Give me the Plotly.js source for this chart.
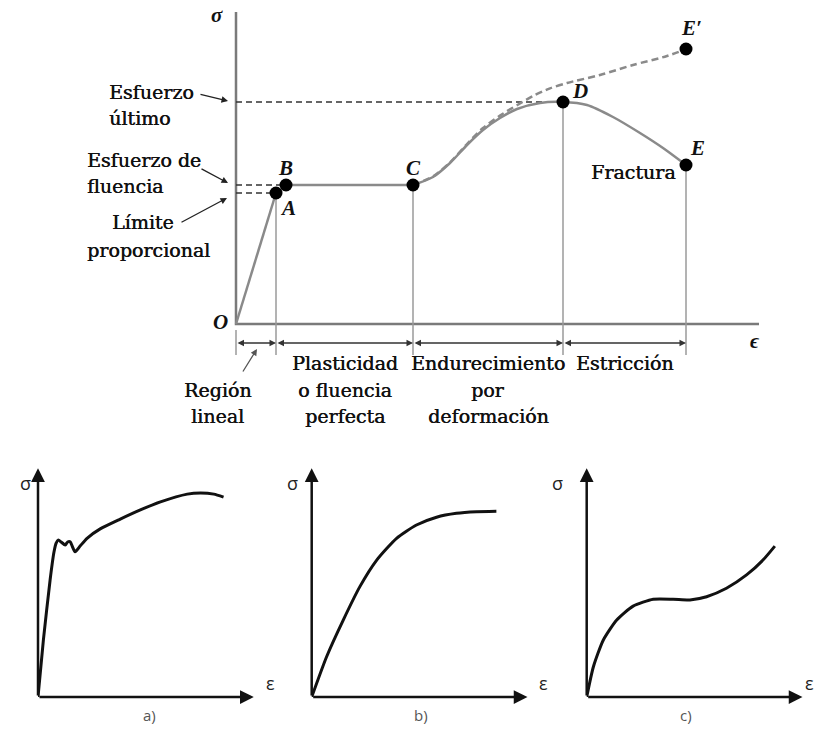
<!DOCTYPE html>
<html><head><meta charset="utf-8">
<script src="https://cdn.plot.ly/plotly-3.0.1.min.js"></script>
<style>html,body{margin:0;padding:0;background:#fff}</style>
</head><body><div id="chart" style="width:822px;height:742px"></div>
<script>
// ---------- Main stress-strain diagram (arbitrary units) ----------
const pointNames  = ['A', 'B', 'C', 'D', 'E', 'E′'];
const pointStrain = [10, 12.5, 44.25, 81.75, 112.5, 112.5];
const pointStress = [32.75, 34.75, 34.75, 55.5, 39.75, 68.75];

const linearStrain = [0, 10];
const linearStress = [0, 32.75];
const plateauStrain = [12.5, 44.25];
const plateauStress = [34.75, 34.75];
const engStrain = [44.25, 49.25, 53.5, 57.75, 61.75, 66, 70.25, 76, 81.75, 87.75, 94.25, 101, 106.75, 112.5];
const engStress = [34.75, 36.75, 40.25, 44.75, 48.5, 51.5, 53.75, 55.25, 55.5, 54.75, 51.75, 47.75, 44, 39.75];
const trueStrain = [44.25, 49.25, 53.5, 57.75, 61.75, 66, 70.25, 74.25, 78.5, 82.75, 91, 99.25, 107.75, 112.5];
const trueStress = [34.75, 36.9, 40.4, 45.0, 49.0, 52.1, 54.7, 57.0, 58.9, 60.25, 62.25, 64.75, 67, 68.75];

const stressLevels = [55.5, 34.75, 32.75];          // último, fluencia, proporcional
const stressLevelEnds = [81.75, 12.5, 10];
const regionBounds = [0, 10, 44.25, 81.75, 112.5];
const boundaryTops = [0, 32.75, 34.75, 55.5, 39.75];
const regionNames = [['Región', 'lineal'], ['Plasticidad', 'o fluencia', 'perfecta'], ['Endurecimiento', 'por', 'deformación'], ['Estricción']];
const axisMaxStrain = 130.75, axisMaxStress = 78;

// ---------- Small curves a), b), c) (0-100 scale) ----------
const aStrain = [0, 2.5, 5.6, 7.4, 8.4, 9.4, 10.7, 12.6, 13.7, 14.9, 16.0, 17.2, 19.5, 22.7, 28.8, 38.1, 47.4, 56.7, 69.1, 75.3, 81.4, 85.9];
const aStress = [0, 24.9, 51.1, 63.3, 67.2, 68.6, 67.7, 66.4, 67.7, 67.8, 65.5, 63.4, 65.9, 69.3, 73.4, 77.7, 81.7, 85.2, 88.6, 89.1, 88.6, 87.3];
const bStrain = [0, 6.9, 14.6, 22.3, 30.1, 39.3, 48.5, 57.8, 67.0, 76.3, 85.5];
const bStress = [0, 17.6, 33.6, 48.2, 59.8, 69.3, 75.1, 78.5, 80.2, 80.9, 81.1];
const cStrain = [0, 3.1, 7.7, 13.9, 21.5, 30.8, 40.0, 47.8, 55.5, 64.7, 74.0, 81.6, 87.1];
const cStress = [0, 13.2, 24.9, 33.6, 39.7, 42.7, 42.7, 42.4, 43.8, 47.5, 53.3, 59.8, 65.9];
const smallLabels = ['a)', 'b)', 'c)'];

const W = 822, H = 742;
const SERIF = 'DejaVu Serif', ITAL = 'Liberation Serif', SANS = 'Open Sans';
const GRAY = '#8a8a8a';

const traces = [];
// main axes
traces.push({x: [0, 0, axisMaxStrain], y: [axisMaxStress, 0, 0], mode: 'lines', line: {color: '#7a7a7a', width: 2.5}, xaxis: 'x', yaxis: 'y'});
// extension lines
const exX = [], exY = [];
regionBounds.forEach((b, i) => { exX.push(b, b, null); exY.push(i === 0 ? -1.5 : boundaryTops[i], -7.75, null); });
traces.push({x: exX, y: exY, mode: 'lines', line: {color: '#9a9a9a', width: 1.5}});
// dashed stress levels
const dX = [], dY = [];
stressLevels.forEach((s, i) => { dX.push(0, stressLevelEnds[i], null); dY.push(s, s, null); });
traces.push({x: dX, y: dY, mode: 'lines', line: {color: '#333', width: 1.6, dash: '6px,4px'}});
// curves
traces.push({x: linearStrain, y: linearStress, mode: 'lines', line: {color: GRAY, width: 2.5}});
traces.push({x: plateauStrain, y: plateauStress, mode: 'lines', line: {color: GRAY, width: 2.5}});
traces.push({x: trueStrain, y: trueStress, mode: 'lines', line: {color: GRAY, width: 2.5, dash: '7px,4px', shape: 'spline', smoothing: 0.8}});
traces.push({x: engStrain, y: engStress, mode: 'lines', line: {color: GRAY, width: 2.5, shape: 'spline', smoothing: 0.8}});
traces.push({x: pointStrain, y: pointStress, mode: 'markers', marker: {color: '#000', size: 13}, cliponaxis: false});

// small curves
[[aStrain, aStress], [bStrain, bStress], [cStrain, cStress]].forEach((d, i) => {
  traces.push({x: d[0], y: d[1], xaxis: 'x' + (i + 2), yaxis: 'y' + (i + 2), mode: 'lines',
    line: {color: '#111', width: 3, shape: 'spline', smoothing: 0.6}});
});

const ann = [];
function txt(text, x, y, o) {
  ann.push(Object.assign({text: text, x: x, y: y, xref: 'x', yref: 'y', showarrow: false,
    font: {family: SERIF, size: 19, color: '#111', shadow: '0.45px 0 0 #111'}}, o || {}));
}
function it(text, x, y, o) {
  txt(text, x, y, Object.assign({font: {family: ITAL, size: 21, color: '#111', weight: 'bold', style: 'italic'}}, o || {}));
}
// point letters
const shifts = [[12, -15], [-1, 17], [0, 17], [17, 11], [11, 17], [5, 21]];
pointNames.forEach((n, i) => it(n, pointStrain[i], pointStress[i], {xshift: shifts[i][0], yshift: shifts[i][1]}));
it('O', -3.8, 0.6);
it('σ', -4.75, 77.3);
it('ϵ', 129.8, -4.3);
txt('Fractura', 99.3, 38, {});
// left labels
txt('Esfuerzo', -32.25, 58, {xanchor: 'left'});
txt('último', -32.25, 51.5, {xanchor: 'left'});
txt('Esfuerzo de', -37.75, 41, {xanchor: 'left'});
txt('fluencia', -37.75, 34.5, {xanchor: 'left'});
txt('Límite', -31.5, 25.5, {xanchor: 'left'});
txt('proporcional', -37.75, 18.5, {xanchor: 'left'});
// label arrows
function arr(x, y, ax, ay, o) {
  ann.push(Object.assign({x: x, y: y, ax: ax, ay: ay, xref: 'x', yref: 'y', axref: 'x', ayref: 'y', text: '',
    showarrow: true, arrowhead: 2, arrowsize: 1, arrowwidth: 1.3, arrowcolor: '#222'}, o || {}));
}
arr(-2, 55.75, -9.25, 57.5);
arr(-2, 35.25, -9, 39);
arr(-2.25, 31.5, -14, 25.25);
arr(5.25, -6.25, 1.5, -12.25, {arrowcolor: '#555'});
// dimension arrows
for (let i = 0; i < 4; i++) {
  arr(regionBounds[i + 1], -4.75, regionBounds[i], -4.75, {arrowside: 'end+start', arrowhead: 2, startarrowhead: 2, arrowsize: 1, startarrowsize: 1, arrowcolor: '#333', arrowwidth: 1.3});
}
// region labels, one line at a time (rows ~26 px apart)
const regionCenters = [-4.75, (regionBounds[1] + regionBounds[2]) / 2, (regionBounds[2] + regionBounds[3]) / 2, (regionBounds[3] + regionBounds[4]) / 2];
const rowY = [-9.75, -16.5, -23];
regionNames.forEach((lines, i) => {
  lines.forEach((t, j) => txt(t, regionCenters[i], rowY[i === 0 ? j + 1 : j], {}));
});

// small charts
const smallOrigins = [38, 311.7, 586.7];
const smallSpanX = 216, smallOriginY = 697, smallTopY = 468;
const layoutAxes = {};
smallOrigins.forEach((ox, i) => {
  const n = i + 2;
  const ax = {domain: [ox / W, (ox + smallSpanX) / W], range: [0, 100], visible: false, fixedrange: true};
  const ay = {domain: [1 - smallOriginY / H, 1 - smallTopY / H], range: [0, 100], visible: false, fixedrange: true};
  layoutAxes['xaxis' + n] = Object.assign({anchor: 'y' + n}, ax);
  layoutAxes['yaxis' + n] = Object.assign({anchor: 'x' + n}, ay);
  const base = {xref: 'x' + n, yref: 'y' + n, axref: 'x' + n, ayref: 'y' + n, text: '', showarrow: true,
    arrowhead: 2, arrowsize: 1.1, arrowwidth: 2.5, arrowcolor: '#111', ax: 0, ay: 0};
  ann.push(Object.assign({}, base, {x: 99.9, y: 0}));
  ann.push(Object.assign({}, base, {x: 0, y: 99.9}));
  const sx = [18, 292, 565][i], ex = [264, 543, 816][i], lx = [141, 421, 694][i];
  ann.push({text: 'σ', xref: 'paper', yref: 'paper', x: sx / W, y: 1 - 483 / H, showarrow: false, font: {family: SANS, size: 18, color: '#222'}});
  ann.push({text: 'ε', xref: 'paper', yref: 'paper', x: ex / W, y: 1 - 697 / H, showarrow: false, font: {family: SANS, size: 18, color: '#222'}});
  ann.push({text: smallLabels[i], xref: 'paper', yref: 'paper', x: lx / W, y: 1 - 727 / H, showarrow: false, font: {family: SANS, size: 15, color: '#555'}});
});

const layout = Object.assign({
  width: W, height: H, margin: {l: 0, r: 0, t: 0, b: 0}, showlegend: false,
  paper_bgcolor: '#fff', plot_bgcolor: 'rgba(0,0,0,0)',
  xaxis: {domain: [0, 1], range: [-59, 146.5], visible: false, fixedrange: true},
  yaxis: {domain: [1 - 440 / H, 1], range: [-29, 81], visible: false, fixedrange: true},
  annotations: ann
}, layoutAxes);

Plotly.newPlot('chart', traces, layout, {staticPlot: true});
</script></body></html>
